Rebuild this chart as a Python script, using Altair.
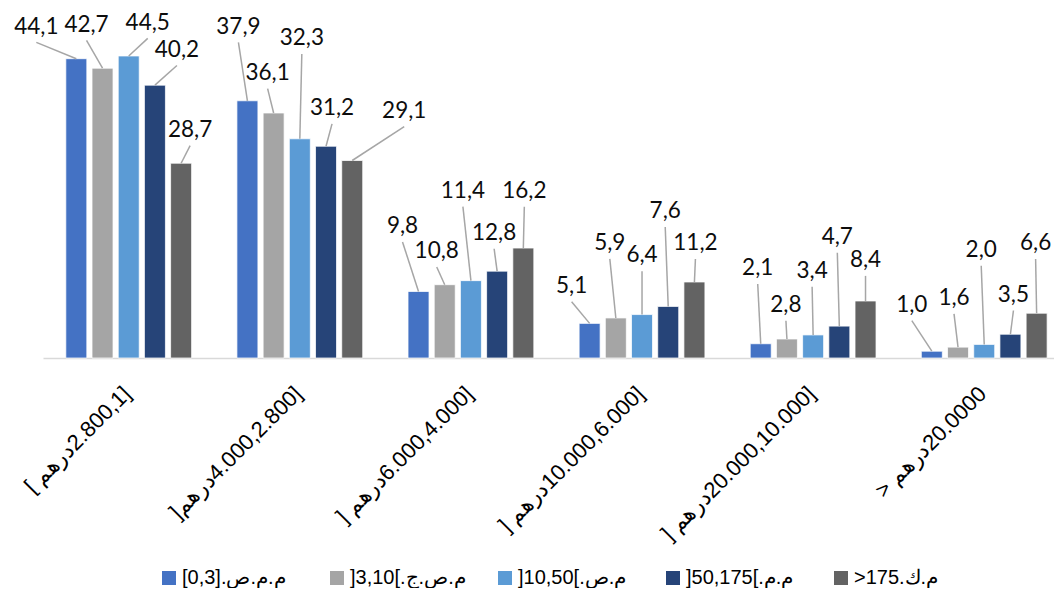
import json
import altair as alt
import pandas as pd

# Category labels (x axis) and series (legend)
categories = [
    "[ درهم\u200e2.800,1]",
    "]درهم\u200e4.000,2.800]",
    "] درهم\u200e6.000,4.000]",
    "] درهم\u200e10.000,6.000]",
    "] درهم\u200e20.000,10.000]",
    "> درهم\u200e20.0000",
]
series = ["[0,3].م.م.ص", "]3,10[.م.ص.ج", "]10,50[.م.ص", "]50,175[.م.م", ">175.م.ك"]
colors = ["#4472C4", "#A5A5A5", "#5B9BD5", "#264478", "#636363"]

# Values (%) per series, one per category
v_0_3 = [44.1, 37.9, 9.8, 5.1, 2.1, 1.0]
v_3_10 = [42.7, 36.1, 10.8, 5.9, 2.8, 1.6]
v_10_50 = [44.5, 32.3, 11.4, 6.4, 3.4, 2.0]
v_50_175 = [40.2, 31.2, 12.8, 7.6, 4.7, 3.5]
v_175 = [28.7, 29.1, 16.2, 11.2, 8.4, 6.6]
values = [v_0_3, v_3_10, v_10_50, v_50_175, v_175]

# Data-label callout placement (sideways shift in px, label baseline in value units)
label_shift = [
    [-40, -9, -16, -18, -3, -20],
    [-16, -6, -8, -6, -1, -4],
    [19, 2, -8, 0, -1, -3],
    [22, 6, -3, -3, -2, 3],
    [9, 52, 1, 1, 0, -1],
]
label_at = [
    [47.8, 47.8, 18.4, 9.6, 12.2, 6.8],
    [48.1, 41.0, 14.7, 15.9, 6.8, 7.8],
    [48.4, 46.1, 23.6, 14.1, 11.8, 14.9],
    [44.4, 35.8, 17.4, 20.6, 16.8, 8.3],
    [32.6, 35.4, 23.6, 15.9, 13.4, 15.9],
]

rows = []
for si, s in enumerate(series):
    for gi, c in enumerate(categories):
        rows.append({
            "series": s, "si": si, "gi": gi,
            "value": values[si][gi],
            "shift": label_shift[si][gi],
            "at": label_at[si][gi],
        })
df = pd.DataFrame(rows)

W, H = 1011, 350
STEP_PX = 171.1
X0 = -0.501
xscale = alt.Scale(domain=[X0, X0 + W / STEP_PX], nice=False, zero=False, padding=0)
yscale = alt.Scale(domain=[0, 51.57], nice=False, zero=True)

label_expr = json.dumps(categories, ensure_ascii=False) + "[datum.value]"

base = alt.Chart(df).transform_calculate(
    pos=f"datum.gi + (datum.si - 2) * {26.2 / STEP_PX}",
).transform_calculate(
    lpos=f"datum.pos + datum.shift / {STEP_PX}",
    lend="datum.at - 1.3",
    txt="replace(format(datum.value, '.1f'), '.', ',')",
)

bars = base.mark_bar(size=21, stroke="white", strokeWidth=0.75).encode(
    x=alt.X("pos:Q", scale=xscale, title="",
            axis=alt.Axis(values=[0, 1, 2, 3, 4, 5], labelExpr=label_expr,
                          ticks=False, grid=False, domainColor="#D9D9D9",
                          domainWidth=1.5, labelAngle=-45, labelAlign="right",
                          labelBaseline="middle", labelPadding=32, labelOffset=-2,
                          labelFont="Arial", labelFontSize=22,
                          labelColor="#000000", labelOverlap=False,
                          labelFlush=False, labelLimit=400)),
    y=alt.Y("value:Q", scale=yscale, axis=None, title=""),
    color=alt.Color("series:N",
                    scale=alt.Scale(domain=series, range=colors),
                    legend=alt.Legend(orient="none", legendX=116, legendY=560,
                                      direction="horizontal", title="",
                                      symbolType="square", symbolSize=196,
                                      symbolStrokeWidth=0, labelFont="Arial",
                                      labelFontSize=20, labelColor="#000000",
                                      labelOffset=3, columnPadding=29,
                                      gridAlign="all",
                                      labelLimit=400, padding=0)),
)

leaders = base.mark_rule(color="#A6A6A6", strokeWidth=1.5).encode(
    x=alt.X("pos:Q", scale=xscale, title=""),
    x2=alt.X2("lpos"),
    y=alt.Y("value:Q", scale=yscale, axis=None, title=""),
    y2=alt.Y2("lend"),
)

labels = base.mark_text(font="Lato", fontSize=22.5, color="#0d0d0d",
                        baseline="alphabetic", align="center").encode(
    x=alt.X("lpos:Q", scale=xscale, title=""),
    y=alt.Y("at:Q", scale=yscale, axis=None, title=""),
    text="txt:N",
)

chart = alt.layer(bars, leaders, labels).properties(
    width=W, height=H,
    padding={"left": 35, "top": 0, "right": 0, "bottom": 230},
    autosize=alt.AutoSizeParams(type="none"),
).configure_view(strokeWidth=0)

chart.save("out.html", embed_options={"renderer": "svg", "actions": False})
